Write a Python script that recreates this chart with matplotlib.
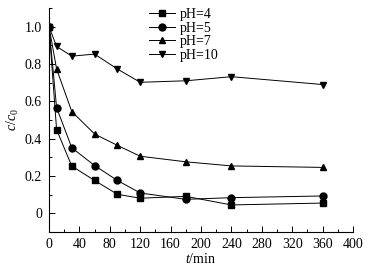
import matplotlib
matplotlib.use("Agg")
import matplotlib.pyplot as plt
from matplotlib.ticker import MultipleLocator

plt.rcParams['font.family'] = ['Liberation Serif', 'DejaVu Serif']
plt.rcParams['mathtext.fontset'] = 'custom'
plt.rcParams['mathtext.rm'] = 'Liberation Serif'
plt.rcParams['mathtext.it'] = 'Liberation Serif:italic'

t = [0, 10, 30, 60, 90, 120, 180, 240, 360]
ph4 = [1.0, 0.448, 0.253, 0.176, 0.102, 0.081, 0.091, 0.045, 0.055]
ph5 = [1.0, 0.566, 0.351, 0.256, 0.176, 0.109, 0.075, 0.084, 0.093]
ph7 = [1.0, 0.773, 0.545, 0.425, 0.364, 0.306, 0.276, 0.254, 0.246]
ph10 = [1.0, 0.894, 0.842, 0.853, 0.773, 0.702, 0.71, 0.732, 0.69]
labels = ['pH=4', 'pH=5', 'pH=7', 'pH=10']
xticks = list(range(0, 401, 40))
yticks = [0, 0.2, 0.4, 0.6, 0.8, 1.0]
ytick_labels = ['0', '0.2', '0.4', '0.6', '0.8', '1.0']

fig = plt.figure(figsize=(3.87, 2.72), dpi=100)
ax = fig.add_axes([49/387, 1 - 232/272, (353-49)/387, (232-8)/272])

markers = ['s', 'o', '^', 'v']
for y, m, lab in zip([ph4, ph5, ph7, ph10], markers, labels):
    ax.plot(t, y, color='black', lw=0.7, marker=m, markersize=5, label=lab)

fs = 10
ax.set_xlim(0, 400)
ax.set_ylim(-0.1, 1.1)
ax.set_xticks(xticks)
ax.set_yticks(yticks)
ax.set_yticklabels(ytick_labels)
ax.xaxis.set_minor_locator(MultipleLocator(20))
ax.yaxis.set_minor_locator(MultipleLocator(0.1))
ax.tick_params(which='both', direction='in', labelsize=fs, width=0.7)
ax.tick_params(which='major', length=4.5)
ax.tick_params(which='minor', length=2.5)
ax.tick_params(axis='x', pad=4)
ax.tick_params(axis='y', pad=5)
for s in ['top', 'right']:
    ax.spines[s].set_visible(False)
for s in ['left', 'bottom']:
    ax.spines[s].set_linewidth(0.8)

ax.set_xlabel(r'$t$/min', fontsize=fs, labelpad=1)
ax.set_ylabel(r'$c/c_0$', fontsize=fs, labelpad=3)

ax.legend(loc='upper left', bbox_to_anchor=(0.31, 1.025), frameon=False,
          fontsize=fs, handlelength=1.9, handletextpad=0.3, labelspacing=0.05,
          borderaxespad=0)

fig.savefig('out.png', dpi=100)
